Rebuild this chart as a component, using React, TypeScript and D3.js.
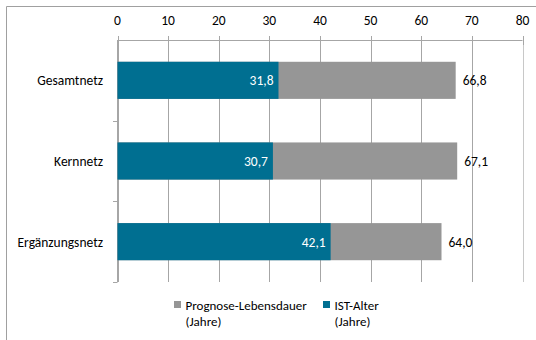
import React from "react";
import * as d3 from "d3";

const categories = ["Gesamtnetz", "Kernnetz", "Ergänzungsnetz"];
const istAlter = [31.8, 30.7, 42.1];
const gesamt = [66.8, 67.1, 64.0];
const xTicks = [0, 10, 20, 30, 40, 50, 60, 70, 80];
const legendItems = [
  { name: ["Prognose-Lebensdauer", "(Jahre)"], color: "#969696" },
  { name: ["IST-Alter", "(Jahre)"], color: "#006F91" },
];

const W = 536;
const H = 340;
const FONT = "Carlito, Lato, 'Open Sans', sans-serif";
const FS = 13.5;
const fmt = (v: number) => v.toFixed(1).replace(".", ",");

export default function App() {
  const x = d3.scaleLinear().domain([0, 80]).range([117.5, 522.5]);
  const y = d3
    .scaleBand<string>()
    .domain(categories)
    .range([40, 282])
    .paddingInner(0.54)
    .paddingOuter(0.27);
  const step = y.step();
  const bandEdges = categories.map((c) => (y(c) as number) - (step * 0.54) / 2 + step);

  return (
    <svg
      width={W}
      height={H}
      style={{ position: "absolute", left: 0, top: 0, background: "#fff" }}
      fontFamily={FONT}
    >
      {/* outer frame */}
      <line x1={6.5} y1={6.5} x2={W} y2={6.5} stroke="#a0a0a0" />
      <line x1={6.5} y1={6.5} x2={6.5} y2={H} stroke="#a0a0a0" />

      {/* vertical gridlines */}
      {xTicks.map((t) => (
        <line
          key={"g" + t}
          x1={Math.round(x(t)) + 0.5}
          x2={Math.round(x(t)) + 0.5}
          y1={40}
          y2={282}
          stroke={t === 80 ? "#c8c8c8" : "#a6a6a6"}
        />
      ))}

      {/* top axis */}
      <line x1={x(0)} x2={x(80)} y1={40.5} y2={40.5} stroke="#a6a6a6" />
      {xTicks.map((t) => (
        <g key={"t" + t}>
          <line
            x1={Math.round(x(t)) + 0.5}
            x2={Math.round(x(t)) + 0.5}
            y1={36}
            y2={45}
            stroke="#a6a6a6"
          />
          <text x={x(t)} y={24.5} textAnchor="middle" fontSize={FS} fill="#000">
            {t}
          </text>
        </g>
      ))}

      {/* category axis */}
      <line x1={117.5} x2={117.5} y1={40} y2={282} stroke="#a6a6a6" />
      {bandEdges.map((e, i) => (
        <line key={"c" + i} x1={113} x2={117.5} y1={Math.round(e) + 0.5} y2={Math.round(e) + 0.5} stroke="#a6a6a6" />
      ))}

      {categories.map((c, i) => {
        const y0 = y(c) as number;
        const bh = y.bandwidth();
        const cy = y0 + bh / 2;
        return (
          <g key={c}>
            <text x={103} y={cy + 5} textAnchor="end" fontSize={FS} fill="#000">
              {c}
            </text>
            <rect x={x(0)} y={y0} width={x(gesamt[i]) - x(0)} height={bh} fill="#969696" />
            <rect x={x(0)} y={y0} width={x(istAlter[i]) - x(0)} height={bh} fill="#006F91" />
            <text x={x(istAlter[i]) - 5} y={cy + 5} textAnchor="end" fontSize={FS} fill="#fff">
              {fmt(istAlter[i])}
            </text>
            <text x={x(gesamt[i]) + 7} y={cy + 5} textAnchor="start" fontSize={FS} fill="#000">
              {fmt(gesamt[i])}
            </text>
          </g>
        );
      })}

      {/* legend */}
      {legendItems.map((l, i) => {
        const lx = i === 0 ? 174 : 323;
        return (
          <g key={l.name[0]}>
            <rect x={lx} y={301} width={7} height={7} fill={l.color} />
            <text x={lx + 11.5} y={310} fontSize={13} fill="#000">
              {l.name[0]}
            </text>
            <text x={lx + 11.5} y={325.5} fontSize={13} fill="#000">
              {l.name[1]}
            </text>
          </g>
        );
      })}
    </svg>
  );
}
